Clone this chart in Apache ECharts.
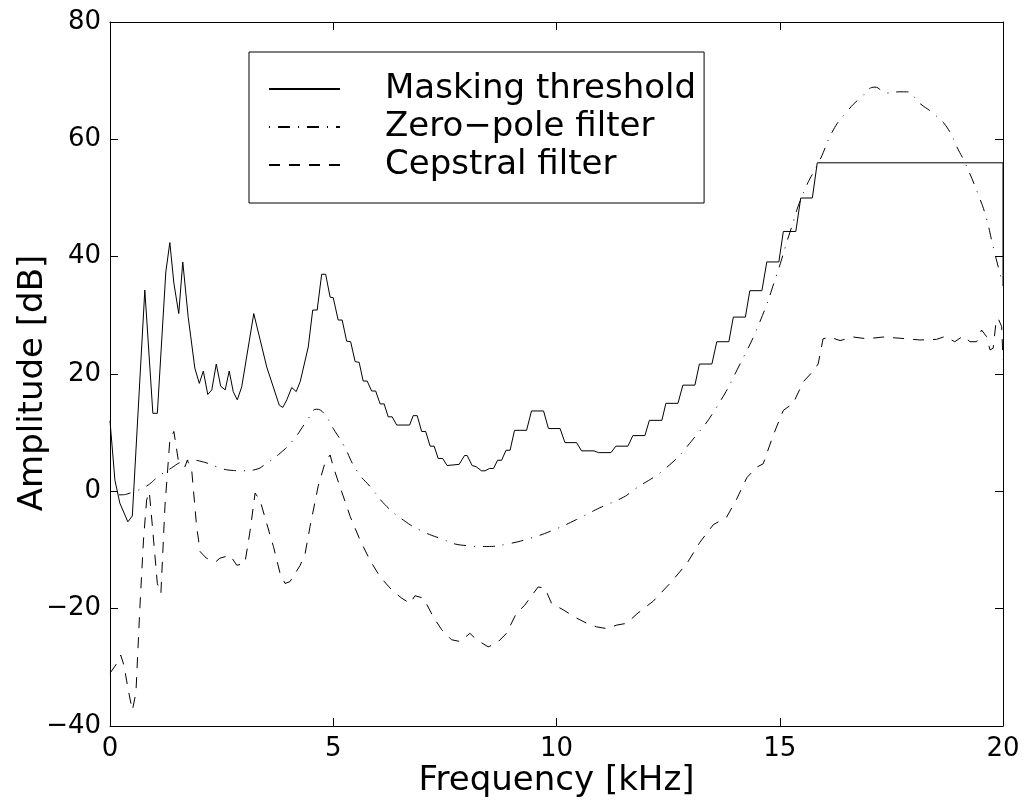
<!DOCTYPE html>
<html>
<head>
<meta charset="utf-8">
<script src="https://cdn.jsdelivr.net/npm/echarts@6/dist/echarts.min.js"></script>
<style>
html,body{margin:0;padding:0;background:#fff;}
#chart{width:1027px;height:810px;}
</style>
</head>
<body>
<div id="chart"></div>
<script>
// ---- Data (frequency in kHz, amplitude in dB) ----
const seriesNames = ['Masking threshold', 'Zero\u2212pole filter', 'Cepstral filter'];

const freqMask = [0,0.11,0.22,0.40,0.5,0.78,0.96,1.06,1.25,1.34,1.43,1.54,1.63,1.75,1.90,2.0,2.09,2.19,2.28,2.38,2.48,2.58,2.67,2.76,2.85,2.95,3.22,3.51,3.79,3.87,3.96,4.07,4.17,4.26,4.44,4.54,4.64,4.74,4.83,4.93,5.0,5.11,5.2,5.30,5.39,5.49,5.58,5.67,5.76,5.86,5.95,6.05,6.14,6.23,6.32,6.42,6.71,6.79,6.88,6.98,7.07,7.17,7.26,7.35,7.45,7.55,7.82,7.94,8.0,8.11,8.2,8.32,8.4,8.5,8.59,8.68,8.77,8.87,8.96,9.06,9.33,9.44,9.71,9.82,10.08,10.19,10.45,10.56,10.84,10.94,11.22,11.33,11.6,11.71,11.98,12.08,12.36,12.45,12.72,12.83,13.1,13.2,13.48,13.59,13.86,13.96,14.23,14.33,14.6,14.71,14.98,15.08,15.36,15.47,15.73,15.84,20,20];
const dbMask = [12,1.9,-2,-5.2,-4.2,34.3,13.3,13.3,37.4,42.4,35.5,30.3,39.1,29.8,21,18.4,20.5,16.5,17.3,21.7,17.9,17.3,20.5,17.0,15.6,17.8,30.3,21.2,14.7,14.3,15.6,17.7,17.0,18.7,24.6,30.9,30.9,37.0,37.0,33.1,33,29.2,29.2,25.6,25.5,22.1,22,18.8,18.8,17.1,17.1,14.9,14.9,12.7,12.7,11.3,11.3,12.9,12.9,10.2,10.2,7.7,7.7,5.6,5.6,4.4,4.6,6.1,6.1,4.4,4.2,3.5,3.5,3.9,3.9,5.3,5.3,7.0,7.0,10.4,10.4,13.7,13.7,10.7,10.7,8.3,8.3,6.9,6.9,6.6,6.6,7.7,7.7,9.5,9.5,12.1,12.1,15.0,15.0,18.1,18.1,21.7,21.7,25.5,25.5,29.7,29.7,34.2,34.2,39.1,39.1,44.3,44.3,50,50,56,56,35];

const freqZP = [0,0.22,0.52,0.82,1.08,1.38,1.6,1.83,2.09,2.39,2.69,2.99,3.25,3.51,3.81,4.1,4.4,4.63,4.79,5.0,5.23,5.52,5.86,6.2,6.57,6.94,7.39,7.91,8.44,8.88,9.41,9.93,10.45,10.97,11.5,11.72,12.47,13.06,13.59,14.11,14.56,14.93,15.23,15.53,15.9,16.2,16.5,16.84,17.13,17.39,17.69,17.84,18.14,18.44,18.74,19.0,19.15,19.45,19.63,19.76,19.93,20];
const dbZP = [-0.6,-0.6,-0.1,0.9,2.5,4.0,5.0,5.3,5.0,4.2,3.6,3.5,3.7,4.8,6.5,8.7,11.9,14.0,13.3,10.7,7.9,3.6,0.5,-2.6,-4.9,-6.6,-8.0,-9.2,-9.4,-9.0,-8.0,-6.6,-4.8,-2.8,-1.0,0.2,4.1,8.9,14.4,21.7,29.0,36.9,44.2,50.9,56.5,61.6,64.7,67.3,68.9,67.9,68.1,68.1,66.1,64.4,62.1,58.2,56.0,50.5,46.5,42.3,37.2,35.3];

const freqCep = [0,0.13,0.24,0.31,0.41,0.5,0.58,0.67,0.75,0.82,0.88,0.95,1.06,1.14,1.23,1.34,1.43,1.53,1.68,1.73,1.83,1.94,2.02,2.16,2.37,2.46,2.69,2.84,3.02,3.14,3.25,3.36,3.51,3.66,3.81,3.92,4.03,4.26,4.37,4.48,4.66,4.82,4.93,5.0,5.15,5.38,5.6,5.82,6.05,6.31,6.53,6.72,6.83,7.02,7.24,7.43,7.65,7.84,8.06,8.21,8.47,8.66,8.88,9.1,9.29,9.48,9.59,9.74,9.89,10.15,10.45,10.68,10.9,11.12,11.35,11.57,11.8,12.17,12.54,12.92,13.21,13.51,13.81,14.03,14.26,14.48,14.63,14.85,15.08,15.3,15.53,15.75,15.86,15.97,16.12,16.35,16.65,16.95,17.31,17.69,18.14,18.51,18.7,18.92,19.11,19.26,19.41,19.52,19.63,19.71,19.78,19.84,19.89,19.97,20];
const dbCep = [-31.0,-29.6,-27.9,-29.6,-33.9,-37.3,-34.4,-19.7,-8.3,-1.5,-0.1,-6.0,-15.7,-17.4,-2.6,8.7,10.2,5.3,4.2,5.3,3.6,-6.0,-10.3,-11.4,-12.0,-11.4,-10.9,-12.6,-12.3,-6.6,-0.3,-1.5,-5.5,-9.4,-14.0,-15.7,-15.4,-12.6,-10.6,-6.0,0.8,5.0,6.2,4.2,0.8,-4.3,-8.3,-11.7,-14.6,-16.8,-18.2,-19.1,-17.8,-18.2,-21.4,-23.6,-25.3,-25.6,-24.2,-25.3,-26.5,-25.9,-24.2,-20.8,-19.4,-17.4,-16.3,-16.5,-19.1,-20.2,-21.6,-22.5,-23.1,-23.4,-22.8,-22.5,-20.9,-18.7,-15.7,-12.3,-8.7,-5.7,-4.4,-1.4,2.3,4.1,4.7,9.5,13.8,15.0,18.7,20.5,21.7,26.0,26.3,25.7,26.3,26.0,26.3,26.1,25.8,25.9,26.4,25.5,26.5,25.5,25.5,27.5,26.4,24.1,24.4,28.6,29.5,28.1,22.5];

const xRange = [0, 20, 5];    // min, max, interval (kHz)
const yRange = [-40, 80, 20]; // min, max, interval (dB)

// ---- Chart ----
const pairs = (xs, ys) => xs.map((x, i) => [x, ys[i]]);
const FONT = 'DejaVu Sans';
const fmt = v => String(v).replace('-', '\u2212');

const chart = echarts.init(document.getElementById('chart'), null, {renderer: 'canvas'});

const baseX = {
  type: 'value', min: xRange[0], max: xRange[1], interval: xRange[2],
  axisLine: {show: true, onZero: false, lineStyle: {color: '#000', width: 1}},
  axisTick: {show: true, inside: true, length: 8, lineStyle: {color: '#000', width: 1}},
  splitLine: {show: false}
};
const baseY = {
  type: 'value', min: yRange[0], max: yRange[1], interval: yRange[2],
  axisLine: {show: true, onZero: false, lineStyle: {color: '#000', width: 1}},
  axisTick: {show: true, inside: true, length: 8, lineStyle: {color: '#000', width: 1}},
  splitLine: {show: false}
};

const option = {
  animation: false,
  backgroundColor: '#fff',
  grid: {left: 110, right: 24, top: 22, bottom: 84, containLabel: false, outerBoundsMode: 'none'},
  legend: {
    orient: 'vertical',
    left: 249, top: 52,
    padding: [18, 8, 19, 19],
    itemGap: 0,
    itemWidth: 71, itemHeight: 14,
    borderColor: '#000', borderWidth: 1,
    backgroundColor: '#fff',
    selectedMode: false,
    itemStyle: {opacity: 0, borderWidth: 0},
    textStyle: {fontFamily: FONT, fontSize: 34, color: '#000', lineHeight: 38, padding: [0, 0, 0, 40]},
    data: seriesNames
  },
  xAxis: [
    Object.assign({}, baseX, {
      position: 'bottom',
      name: 'Frequency [kHz]', nameLocation: 'middle', nameGap: 38, nameMoveOverlap: false,
      nameTextStyle: {fontFamily: FONT, fontSize: 34, color: '#000'},
      axisLabel: {show: true, margin: 10, fontFamily: FONT, fontSize: 26, color: '#000', formatter: fmt}
    }),
    Object.assign({}, baseX, {position: 'top', axisLabel: {show: false}})
  ],
  yAxis: [
    Object.assign({}, baseY, {
      position: 'left',
      name: 'Amplitude [dB]', nameLocation: 'middle', nameGap: 60, nameMoveOverlap: false,
      nameTextStyle: {fontFamily: FONT, fontSize: 34, color: '#000', padding: [0, 18, 0, 0]},
      axisLabel: {show: true, margin: 9, fontFamily: FONT, fontSize: 26, color: '#000', formatter: fmt}
    }),
    Object.assign({}, baseY, {position: 'right', axisLabel: {show: false}})
  ],
  series: [
    {
      name: seriesNames[0], type: 'line', data: pairs(freqMask, dbMask),
      symbol: 'none', showSymbol: false, smooth: false, z: 3,
      lineStyle: {color: '#000', width: 1, type: 'solid'},
      itemStyle: {color: '#000'}
    },
    {
      name: seriesNames[1], type: 'line', data: pairs(freqZP, dbZP),
      symbol: 'none', showSymbol: false, smooth: true, z: 2,
      lineStyle: {color: '#000', width: 1, type: [1, 8, 12, 8]},
      itemStyle: {color: '#000'}
    },
    {
      name: seriesNames[2], type: 'line', data: pairs(freqCep, dbCep),
      symbol: 'none', showSymbol: false, smooth: false, z: 2,
      lineStyle: {color: '#000', width: 1, type: [11, 9]},
      itemStyle: {color: '#000'}
    }
  ]
};
chart.setOption(option);
</script>
</body>
</html>
